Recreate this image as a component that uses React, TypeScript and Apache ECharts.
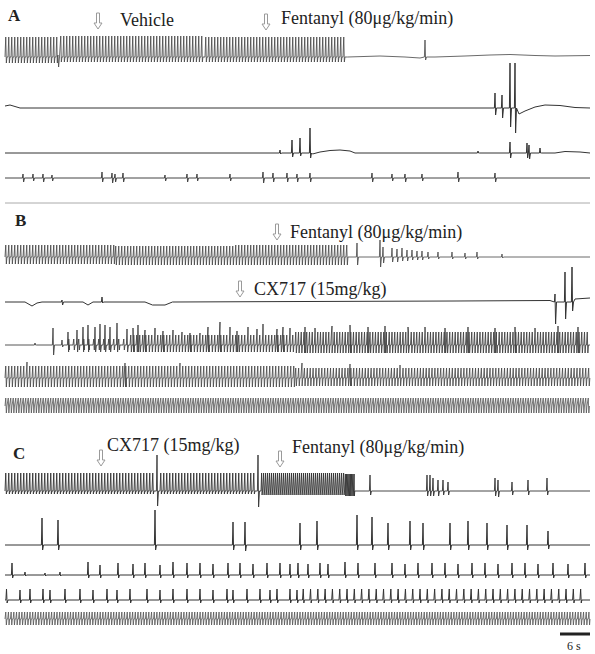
import { useEffect, useRef } from "react";
import * as echarts from "echarts";

// [start s, end s, cycle period s, peak up, trough down]
type Seg = [number, number, number, number, number];
// [time s, peak up, trough down]
type Spike = [number, number, number];
// [time s, baseline level]
type Knot = [number, number];

const END_S = 117;
const scaleBarSeconds = [111, 117];
const scaleBarLabel = "6 s";

// ---------- Panel A ----------
const a1Rhythm: Seg[] = [[0, 11, 0.6, 20, 6], [11, 40, 0.6, 21, 5], [40, 68, 0.6, 20, 5]];
const a1Spikes: Spike[] = [[10.6, 2, 10], [84, 17, 3]];
const a1Knots: Knot[] = [[68.5, 0], [75, 1], [80, 0], [83, -1], [86, 0], [92, 1], [97, 2], [101, 2.5], [106, 1.5], [110, 1], [117, 1.5]];

const a2Spikes: Spike[] = [[98, 15, 7], [99.4, 13, 10], [101, 45, 19], [102, 45, 25]];
const a2Knots: Knot[] = [[0, 2], [1, 3], [3, 0], [97, 0], [102.8, -6], [104, -3], [106, 1], [108, 3], [111, 2.5], [114, 0.5], [117, 0]];

const a3Spikes: Spike[] = [[55, 3, 1], [57.4, 13, 4], [59, 15, 3], [61, 25, 5], [94.6, 2, 0], [101, 11, 5], [104.4, 10, 5], [104.8, 8, 6], [107, 5, 0]];
const a3Knots: Knot[] = [[61.5, -1], [63, 1], [65, 2.5], [67, 3], [69, 2], [70, 0], [110, 0], [112, 1.5], [115, 1], [117, 0]];

const a4Spikes: Spike[] = [[3.6, 4, 4], [5.6, 4, 3], [7.6, 4, 4], [9.4, 3, 3], [19.4, 6, 4], [21.4, 5, 5], [22, 4, 4], [23.6, 5, 4], [32, 3, 3], [36.4, 4, 4], [38.4, 4, 3], [45, 4, 3], [51.6, 6, 5], [53.6, 5, 4], [56.4, 5, 4], [58.4, 4, 4], [61, 5, 4], [73.4, 5, 4], [77.4, 4, 3], [80, 4, 4], [83.4, 4, 3], [90.6, 6, 4], [98, 5, 4]];

const a5Knots: Knot[] = [[0, 0], [117, 0]];

// ---------- Panel B ----------
const b1Rhythm: Seg[] = [[0, 22, 0.6, 12, 7], [22, 46, 0.6, 11, 8], [46, 69, 0.6, 12, 8]];
const b1Spikes: Spike[] = [[70.4, 14, 8], [75, 17, 10], [75.6, 10, 6], [77.4, 9, 5], [78.4, 8, 5], [79.4, 9, 4], [80.4, 7, 4], [81.4, 7, 3], [82.4, 6, 3], [83.4, 6, 3], [84.6, 5, 2], [86.6, 5, 2], [89.4, 5, 2], [92, 4, 2], [94.4, 5, 2], [99.4, 3, 1]];

const b2Spikes: Spike[] = [[11.4, 2, 3], [19.4, 5, 1], [110, 8, 22], [112, 30, 17], [113.4, 35, 9]];
const b2Knots: Knot[] = [[4, 0], [5.4, -4], [6.4, -1], [7.4, 0], [15.6, 0], [16.6, -3], [17.6, 0], [28, 0], [29.5, -3], [32, -3], [33.5, 0], [60, 0.5], [90, 1], [109, 1.5], [114, 3], [117, 4]];

const b3Rhythm: Seg[] = [[12.6, 25, 1.0, 6, 5], [25, 58, 0.6, 10, 7], [58, 117, 0.55, 13, 8]];
const b3Spikes: Spike[] = [[6, 2, 0], [9.6, 17, 10], [11.4, 5, 2], [12.6, 13, 7], [14.4, 15, 7], [15.6, 18, 7], [16.6, 20, 7], [18, 18, 7], [19, 21, 7], [20, 20, 7], [21, 18, 7], [22.4, 22, 7], [24.4, 16, 7], [25.6, 17, 7], [26.6, 20, 7], [28, 15, 7], [30, 17, 7], [31.6, 14, 7], [33.6, 15, 7], [35.4, 13, 7], [37, 12, 7], [39, 12, 7], [40.6, 18, 7], [43, 23, 7], [45, 18, 7], [46.4, 14, 7], [48.6, 18, 7], [50.4, 16, 7], [51.6, 21, 7], [54.4, 16, 7], [55.6, 18, 7], [57, 17, 7], [60, 18, 8], [62, 17, 8], [65.4, 19, 8], [69, 20, 8], [72.6, 18, 8], [76, 19, 8], [80.6, 18, 8], [84, 18, 8], [88, 17, 8], [92.6, 18, 8], [98, 17, 8], [102, 18, 8], [106, 17, 8], [110.6, 19, 8], [114.6, 18, 8]];

const b4Rhythm: Seg[] = [[0, 58, 0.6, 12, 9], [58, 117, 0.58, 10, 8]];
const b4Spikes: Spike[] = [[4.4, 16, 9], [24, 15, 9], [35, 15, 9], [59.4, 15, 8], [69, 14, 8], [79, 13, 8]];

const b5Rhythm: Seg[] = [[0, 117, 0.5, 8, 7]];

// ---------- Panel C ----------
const c1Rhythm: Seg[] = [[0, 30.2, 0.6, 18, 3], [31, 50.4, 0.6, 18, 3], [51.2, 68, 0.4, 18, 4], [68, 70, 0.25, 17, 5]];
const c1Spikes: Spike[] = [[30.4, 36, 15], [50.6, 36, 16], [73, 16, 4], [84.4, 16, 5], [85, 16, 5], [85.6, 13, 5], [86.6, 11, 5], [87.6, 11, 4], [88.6, 9, 4], [98, 13, 5], [98.6, 11, 6], [101.4, 9, 4], [104.6, 11, 4], [108.4, 13, 4]];

const c2Spikes: Spike[] = [[7.4, 27, 5], [10.6, 25, 5], [30, 35, 5], [45.6, 23, 5], [48, 23, 6], [59, 22, 5], [62.4, 24, 5], [70.4, 30, 5], [73.4, 28, 5], [76.6, 22, 5], [81, 24, 5], [83.6, 22, 5], [89, 22, 5], [92.6, 24, 5], [96.4, 22, 5], [100.4, 20, 5], [104.4, 20, 5], [108.6, 14, 4]];

const c3Spikes: Spike[] = [[1.4, 12, 3], [4, 3, 1], [8, 2, 1], [11, 3, 1], [16.6, 13, 3], [19, 10, 3], [22.6, 12, 3], [25.6, 11, 3], [28, 12, 3], [31, 10, 3], [33.6, 13, 3], [36.4, 12, 3], [39, 12, 3], [41.6, 11, 3], [44.6, 12, 3], [47, 12, 3], [49.6, 11, 3], [52.4, 12, 3], [55, 12, 3], [57, 11, 3], [58.6, 12, 3], [60.6, 11, 3], [63, 12, 3], [64.6, 11, 3], [68, 13, 3], [70.6, 12, 3], [74, 12, 3], [77.4, 12, 3], [80, 11, 3], [82.6, 12, 3], [85.4, 12, 3], [88, 12, 3], [90.6, 11, 3], [93.4, 12, 3], [96, 12, 3], [98.6, 11, 3], [101.4, 12, 3], [104, 12, 3], [106.6, 11, 3], [109.6, 12, 3], [112.6, 11, 3], [116, 12, 3]];

const c4Rhythm: Seg[] = [[59.5, 117, 1.46, 11, 3]];
const c4Spikes: Spike[] = [[0.3, 11, 3], [3, 10, 3], [5, 11, 3], [7.6, 11, 3], [9, 10, 3], [12, 11, 3], [15, 11, 3], [17.6, 10, 3], [20.4, 11, 3], [22.4, 10, 3], [25, 11, 3], [28.4, 11, 3], [31, 10, 3], [33.6, 11, 3], [36.4, 11, 3], [39, 11, 3], [41.6, 10, 3], [44.4, 11, 3], [45.6, 10, 3], [48.4, 11, 3], [51, 11, 3], [53, 10, 3], [54.4, 11, 3], [57, 11, 3], [58.4, 10, 3]];

const c5Rhythm: Seg[] = [[0, 117, 0.54, 7, 6]];

const traceData = [
  { rhythm: a1Rhythm, spikes: a1Spikes, knots: a1Knots },
  { rhythm: [], spikes: a2Spikes, knots: a2Knots },
  { rhythm: [], spikes: a3Spikes, knots: a3Knots },
  { rhythm: [], spikes: a4Spikes, knots: [] },
  { rhythm: [], spikes: [], knots: a5Knots },
  { rhythm: b1Rhythm, spikes: b1Spikes, knots: [] },
  { rhythm: [], spikes: b2Spikes, knots: b2Knots },
  { rhythm: b3Rhythm, spikes: b3Spikes, knots: [] },
  { rhythm: b4Rhythm, spikes: b4Spikes, knots: [] },
  { rhythm: b5Rhythm, spikes: [], knots: [] },
  { rhythm: c1Rhythm, spikes: c1Spikes, knots: [] },
  { rhythm: [], spikes: c2Spikes, knots: [] },
  { rhythm: [], spikes: c3Spikes, knots: [] },
  { rhythm: c4Rhythm, spikes: c4Spikes, knots: [] },
  { rhythm: c5Rhythm, spikes: [], knots: [] },
] as { rhythm: Seg[]; spikes: Spike[]; knots: Knot[] }[];

// layout (pixel baselines) and styles
const CHART_H = 654;
const traceBaselineY = [57, 108, 153, 178, 203, 257, 302, 345, 378, 406, 491, 545, 575, 600, 619];
const scaleBarY = 634;
const traceColor = ["#444", "#333", "#333", "#444", "#aaa", "#444", "#333", "#444", "#444", "#555", "#333", "#333", "#333", "#333", "#555"];
const traceWidth = [0.8, 1, 1, 1, 1, 0.8, 1, 0.9, 0.8, 0.8, 0.9, 1, 1, 1, 0.8];

function buildTrace(rhythm: Seg[], spikes: Spike[], knots: Knot[]): [number, number][] {
  const pts: [number, number][] = [];
  if (!(knots.length && knots[0][0] <= 0)) pts.push([0, 0]);
  if (!(knots.length && knots[knots.length - 1][0] >= END_S)) pts.push([END_S, 0]);
  for (const k of knots) pts.push([k[0], k[1]]);
  for (const [s, e, p, up, dn] of rhythm) {
    const r = Math.min(0.3 * p, 0.15);
    for (let t = s; t < e - p * 0.4; t += p) {
      pts.push([t, 0], [t + r, up], [t + 1.8 * r, -dn], [t + 2.6 * r, 0]);
    }
  }
  for (const [t, up, dn] of spikes) {
    pts.push([t - 0.12, 0], [t, up], [t + 0.12, -dn], [t + 0.3, 0]);
  }
  pts.sort((a, b) => a[0] - b[0]);
  return pts;
}

const SERIF = "'Liberation Serif', 'DejaVu Serif', serif";

function arrow(x: number, y: number) {
  return {
    type: "polygon",
    shape: {
      points: [
        [x - 1.5, y], [x - 1.5, y + 10], [x - 4, y + 10], [x, y + 16],
        [x + 4, y + 10], [x + 1.5, y + 10], [x + 1.5, y],
      ],
    },
    style: { fill: "none", stroke: "#9a9a9a", lineWidth: 1 },
  };
}

function label(text: string, x: number, y: number, size = 18, weight = "normal") {
  return {
    type: "text",
    x,
    y,
    style: {
      text,
      fill: "#222",
      font: `${weight} ${size}px ${SERIF}`,
      verticalAlign: "middle",
    },
  };
}

function addGrid(grids: any[], xAxes: any[], yAxes: any[], baseY: number) {
  const i = grids.length;
  const half = Math.min(50, CHART_H - 1 - baseY, baseY);
  grids.push({ left: 5, width: 585, top: baseY - half, height: 2 * half });
  xAxes.push({ type: "value", gridIndex: i, min: 0, max: END_S, show: false });
  yAxes.push({ type: "value", gridIndex: i, min: -half, max: half, show: false });
  return i;
}

export default function App() {
  const ref = useRef<HTMLDivElement>(null);
  useEffect(() => {
    if (!ref.current) return;
    const chart = echarts.init(ref.current, undefined, { renderer: "svg" });
    const grids: any[] = [];
    const xAxes: any[] = [];
    const yAxes: any[] = [];
    const series: any[] = [];
    traceData.forEach((tr, i) => {
      const g = addGrid(grids, xAxes, yAxes, traceBaselineY[i]);
      series.push({
        type: "line",
        xAxisIndex: g,
        yAxisIndex: g,
        data: buildTrace(tr.rhythm, tr.spikes, tr.knots),
        showSymbol: false,
        symbol: "none",
        silent: true,
        clip: false,
        lineStyle: { color: traceColor[i], width: traceWidth[i] },
      });
    });
    const sb = addGrid(grids, xAxes, yAxes, scaleBarY);
    series.push({
      type: "line",
      xAxisIndex: sb,
      yAxisIndex: sb,
      data: scaleBarSeconds.map((t) => [t, 0]),
      showSymbol: false,
      symbol: "none",
      silent: true,
      lineStyle: { color: "#222", width: 3 },
    });

    chart.setOption({
      animation: false,
      backgroundColor: "#fff",
      grid: grids,
      xAxis: xAxes,
      yAxis: yAxes,
      series,
      graphic: [
        label("A", 8, 15, 17, "bold"),
        arrow(98, 13),
        label("Vehicle", 120, 20),
        arrow(266, 14),
        label("Fentanyl (80μg/kg/min)", 281, 18),
        label("B", 15, 220, 17, "bold"),
        arrow(277, 224),
        label("Fentanyl (80μg/kg/min)", 290, 232),
        arrow(240, 281),
        label("CX717 (15mg/kg)", 254, 289),
        label("C", 13, 453, 17, "bold"),
        arrow(101, 450),
        label("CX717 (15mg/kg)", 107, 445),
        arrow(280, 451),
        label("Fentanyl (80μg/kg/min)", 292, 447),
        label(scaleBarLabel, 567, 646, 12),
      ],
    });
    return () => chart.dispose();
  }, []);
  return (
    <div
      ref={ref}
      style={{ position: "fixed", left: 0, top: 0, width: 595, height: 654, background: "#fff" }}
    />
  );
}
